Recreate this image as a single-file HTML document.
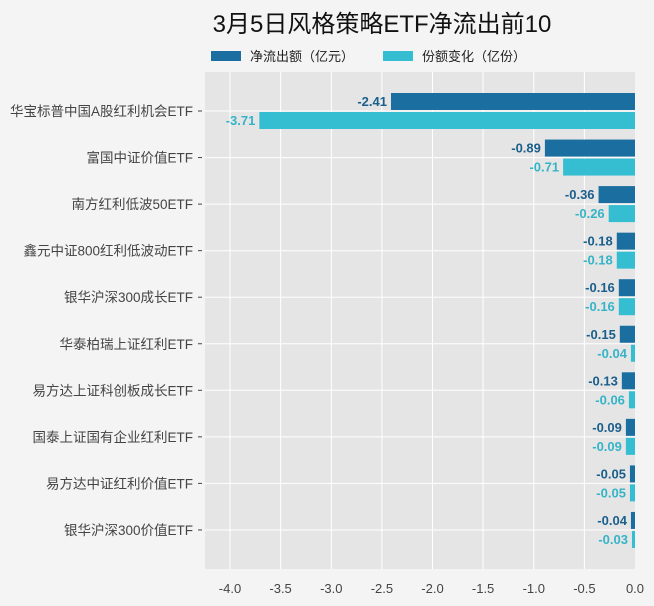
<!DOCTYPE html>
<html><head><meta charset="utf-8"><style>
body{margin:0;background:#f4f4f4;}
svg{display:block;font-family:"Liberation Sans","Noto Sans CJK SC",sans-serif;}
</style></head><body>
<svg width="654" height="606" viewBox="0 0 654 606">
<rect width="654" height="606" fill="#f4f4f4"/>
<text x="382" y="32" font-size="24" text-anchor="middle" fill="#111">3月5日风格策略ETF净流出前10</text>
<rect x="211" y="51" width="30" height="10" fill="#1a6fa0"/>
<text x="250" y="61" font-size="13" fill="#222">净流出额（亿元）</text>
<rect x="383" y="51" width="30" height="10" fill="#35bdd1"/>
<text x="422" y="61" font-size="13" fill="#222">份额变化（亿份）</text>
<rect x="205" y="72" width="430" height="497" fill="#e5e5e5"/>
<g stroke="#fff" stroke-width="1">
<line x1="230" y1="72" x2="230" y2="569"/><line x1="280.6" y1="72" x2="280.6" y2="569"/><line x1="331.3" y1="72" x2="331.3" y2="569"/><line x1="381.9" y1="72" x2="381.9" y2="569"/><line x1="432.5" y1="72" x2="432.5" y2="569"/><line x1="483.1" y1="72" x2="483.1" y2="569"/><line x1="533.8" y1="72" x2="533.8" y2="569"/><line x1="584.4" y1="72" x2="584.4" y2="569"/>
<line x1="205" y1="111" x2="635" y2="111"/><line x1="205" y1="157.6" x2="635" y2="157.6"/><line x1="205" y1="204.1" x2="635" y2="204.1"/><line x1="205" y1="250.7" x2="635" y2="250.7"/><line x1="205" y1="297.2" x2="635" y2="297.2"/><line x1="205" y1="343.8" x2="635" y2="343.8"/><line x1="205" y1="390.3" x2="635" y2="390.3"/><line x1="205" y1="436.9" x2="635" y2="436.9"/><line x1="205" y1="483.4" x2="635" y2="483.4"/><line x1="205" y1="530" x2="635" y2="530"/>
</g>
<g id="bars" font-size="13" font-weight="bold" text-anchor="end"></g>
<g font-size="13.5" fill="#444" text-anchor="end" id="cats"></g>
<g font-size="13" fill="#444" text-anchor="middle">
<text x="230" y="593">-4.0</text><text x="280.6" y="593">-3.5</text><text x="331.3" y="593">-3.0</text><text x="381.9" y="593">-2.5</text><text x="432.5" y="593">-2.0</text><text x="483.1" y="593">-1.5</text><text x="533.8" y="593">-1.0</text><text x="584.4" y="593">-0.5</text><text x="635" y="593">0.0</text>
</g>
</svg>
<script>
var d=[["华宝标普中国A股红利机会ETF",-2.41,-3.71],["富国中证价值ETF",-0.89,-0.71],["南方红利低波50ETF",-0.36,-0.26],["鑫元中证800红利低波动ETF",-0.18,-0.18],["银华沪深300成长ETF",-0.16,-0.16],["华泰柏瑞上证红利ETF",-0.15,-0.04],["易方达上证科创板成长ETF",-0.13,-0.06],["国泰上证国有企业红利ETF",-0.09,-0.09],["易方达中证红利价值ETF",-0.05,-0.05],["银华沪深300价值ETF",-0.04,-0.03]];
var ns="http://www.w3.org/2000/svg",b=document.getElementById("bars"),c=document.getElementById("cats");
function el(p,t,a,s){var e=document.createElementNS(ns,t);for(var k in a)e.setAttribute(k,a[k]);if(s)e.textContent=s;p.appendChild(e);}
d.forEach(function(r,i){var cy=111+i*46.55,k=101.25;
[[r[1],cy-18,"#1a6fa0"],[r[2],cy+1,"#35bdd1"]].forEach(function(q){var w=-q[0]*k,x=635-w;
el(b,"rect",{x:x,y:q[1],width:w,height:17,fill:q[2]});
el(b,"text",{x:x-4,y:q[1]+13,fill:q[2]==="#1a6fa0"?"#1a5f8c":"#35b4c8"},q[0].toFixed(2));});
el(c,"text",{x:193,y:cy+5},r[0]);el(c,"line",{x1:198,y1:cy,x2:202,y2:cy,stroke:"#444"});});
</script>
</body></html>
